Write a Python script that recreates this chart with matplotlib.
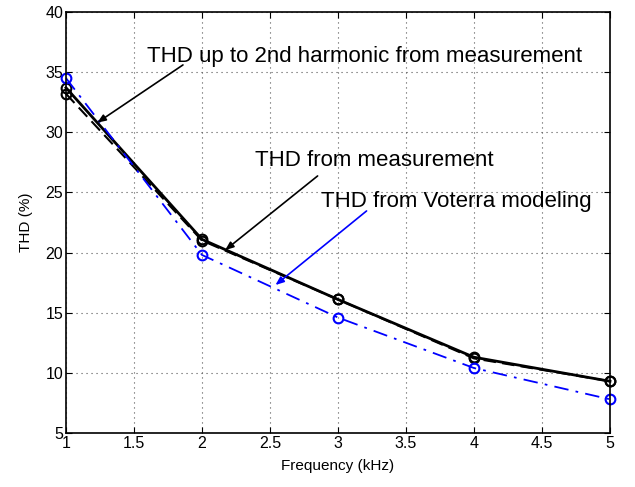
import matplotlib
matplotlib.use('Agg')
import matplotlib.pyplot as plt

plt.rcParams['font.family'] = ['Liberation Sans', 'DejaVu Sans']

freq = [1, 2, 3, 4, 5]
thd_meas = [33.7, 21.1, 16.1, 11.3, 9.3]
thd_2nd = [33.2, 21.0, 16.1, 11.2, 9.3]
thd_volterra = [34.5, 19.8, 14.6, 10.4, 7.8]

fig = plt.figure(figsize=(6.35, 4.87), dpi=100)
ax = fig.add_axes([66 / 635, 1 - 433 / 487, (610 - 66) / 635, (433 - 12) / 487])

ax.plot(freq, thd_2nd, color='black', linestyle=(0, (6, 3)), linewidth=1.5,
        marker='o', markersize=7, markerfacecolor='none', markeredgewidth=1.5, clip_on=False)
ax.plot(freq, thd_meas, color='black', linestyle='-', linewidth=2,
        marker='o', markersize=7, markerfacecolor='none', markeredgewidth=1.5, clip_on=False)
ax.plot(freq, thd_volterra, color='blue', linestyle=(0, (8, 4, 1.5, 4)), linewidth=1.3,
        marker='o', markersize=7, markerfacecolor='none', markeredgewidth=1.5, clip_on=False)

ax.set_xlim(1, 5)
ax.set_ylim(5, 40)
ax.set_xticks([1, 1.5, 2, 2.5, 3, 3.5, 4, 4.5, 5])
ax.set_xticklabels(['1', '1.5', '2', '2.5', '3', '3.5', '4', '4.5', '5'])
ax.set_yticks(range(5, 41, 5))
ax.tick_params(direction='in', top=True, right=True, labelsize=11.5, length=4, pad=2)
ax.grid(True, linestyle=(0, (1, 3.5)), color='#555555', linewidth=0.8)
ax.set_xlabel('Frequency (kHz)', fontsize=11, labelpad=6)
ax.set_ylabel('THD (%)', fontsize=11, labelpad=9)
for s in ax.spines.values():
    s.set_linewidth(1.2)

ax.text(1.596, 35.84, 'THD up to 2nd harmonic from measurement', fontsize=16,
        ha='left', va='baseline')
ax.text(2.39, 27.2, 'THD from measurement', fontsize=16, ha='left', va='baseline')
ax.text(2.875, 23.79, 'THD from Voterra modeling', fontsize=16, ha='left', va='baseline')

ax.annotate('', xy=(1.23, 30.8), xytext=(1.86, 35.6),
            arrowprops=dict(arrowstyle='-|>,head_length=0.5,head_width=0.2',
                            color='black', lw=1.2, shrinkA=0, shrinkB=0))
ax.annotate('', xy=(2.17, 20.2), xytext=(2.85, 26.37),
            arrowprops=dict(arrowstyle='-|>,head_length=0.5,head_width=0.2',
                            color='black', lw=1.2, shrinkA=0, shrinkB=0))
ax.annotate('', xy=(2.54, 17.3), xytext=(3.21, 23.46),
            arrowprops=dict(arrowstyle='-|>,head_length=0.5,head_width=0.2',
                            color='blue', lw=1.2, shrinkA=0, shrinkB=0))

fig.savefig('out.png', dpi=100)
